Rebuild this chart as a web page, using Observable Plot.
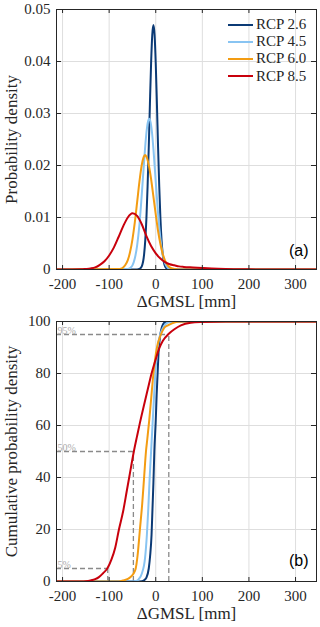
<!DOCTYPE html>
<html><head><meta charset="utf-8">
<script src="https://cdn.jsdelivr.net/npm/d3@7"></script>
<script src="https://cdn.jsdelivr.net/npm/@observablehq/plot@0.6"></script>
<style>
body{margin:0;background:#fff;}
#wrap{position:relative;width:320px;height:627px;}
#wrap svg{display:block;}
#legend{position:absolute;left:228px;top:16px;font-family:'Liberation Serif',serif;font-size:15px;color:#262626;}
.row{display:flex;align-items:center;height:17.2px;}
.row span{margin-left:3px;}
</style></head><body><div id="wrap"></div><script>
// ---- data ----
const scenarios = ["RCP 2.6", "RCP 4.5", "RCP 6.0", "RCP 8.5"];
const colors = ["#0b3a75", "#88c4f2", "#f39c12", "#c8000c"];

const xTicks = [-200, -100, 0, 100, 200, 300];
const pdfTicks = [0, 0.01, 0.02, 0.03, 0.04, 0.05];
const cdfTicks = [0, 20, 40, 60, 80, 100];

// probability density
const pdfX26 = [-215,-40,-35,-30,-25,-22.5,-20,-17.5,-15,-12.5,-10,-7.5,-5,-2.5,0,2.5,5,7.5,10,12.5,15,20,25,30,350];
const pdfY26 = [0,0,0.0001,0.0006,0.0029,0.0056,0.0099,0.0160,0.0235,0.0319,0.0396,0.0451,0.047,0.0451,0.0396,0.0319,0.0235,0.0160,0.0099,0.0056,0.0029,0.0006,0.0001,0,0];
const pdfX45 = [-215,-60,-55,-50,-45,-40,-35,-30,-25,-20,-17,-14,-11,-8,-5,0,5,10,15,20,25,30,40,350];
const pdfY45 = [0,0.0001,0.0003,0.0008,0.0021,0.0046,0.0086,0.0144,0.0208,0.0263,0.0283,0.029,0.0283,0.0263,0.0232,0.0169,0.0108,0.0060,0.0029,0.0012,0.0004,0.0001,0,0];
const pdfX60 = [-215,-80,-75,-70,-65,-60,-55,-50,-45,-40,-35,-30,-26,-23,-20,-15,-10,-5,0,5,10,15,20,25,30,40,50,350];
const pdfY60 = [0,0.0001,0.00015,0.0004,0.0009,0.0018,0.0034,0.0058,0.0090,0.0129,0.0169,0.0201,0.0216,0.022,0.0217,0.0201,0.0174,0.0140,0.0106,0.0074,0.0049,0.0030,0.0017,0.0009,0.0004,0.0001,0,0];
const pdfX85 = [-215,-160,-150,-140,-130,-120,-110,-100,-90,-80,-70,-60,-50,-40,-30,-20,-10,0,10,20,30,40,50,60,80,100,120,150,200,250,350];
const pdfY85 = [0,0.00003,0.0001,0.0002,0.0004,0.0009,0.0016,0.0027,0.0042,0.0062,0.0083,0.0100,0.0108,0.0103,0.0087,0.0064,0.0045,0.0031,0.0021,0.0014,0.0010,0.0008,0.0006,0.0005,0.0004,0.0003,0.0002,0.0001,0.00003,0,0];

// cumulative probability (%)
const cdfX26 = [-215,-40,-30,-25,-20,-15,-12,-9,-7,-5,-3,0,2,4,6,9,12,16,21,30,350];
const cdfY26 = [0,0,0.1,0.5,1.5,5,10,18,28,38,50,62,72,80,88,94,97,99,99.8,100,100];
const cdfX45 = [-215,-50,-40,-36,-30,-23,-19,-16,-13,-10,-7,-4,-1,3.5,8,14,20,28,40,350];
const cdfY45 = [0,0,0.3,1,3,9,18,28,40,50,60,70,80,89.5,94,97,98.8,99.7,100,100];
const cdfX60 = [-215,-80,-68,-60,-54,-48,-43,-39,-34,-29,-25,-21,-18,-14,-10,-5,2,11,18,26,35,47,60,350];
const cdfY60 = [0,0,0.5,1,1.7,3,5,10,20,30,40,50,55,62,70,80,89.5,95,97.5,98.5,99.3,99.9,100,100];
const cdfX85 = [-215,-160,-150,-140,-130,-122,-113,-104,-95,-87,-79,-70,-62,-57,-47,-40,-34,-25,-17,-9,0,7,15,28,40,54,75,100,150,350];
const cdfY85 = [0,0,0.1,0.4,0.9,1.7,3.2,5,8.5,13,20,27,35,40,50,56,61,68,74,80,85.5,89.5,92.5,95.3,97,98.5,99.5,99.8,100,100];

// RCP 8.5 percentiles
const pctLevels = [5, 50, 95];
const pctValues = [-103, -48, 28];
const pctLabels = ["5%", "50%", "95%"];

const xLabel = "\u0394GMSL [mm]";
const pdfLabel = "Probability density";
const cdfLabel = "Cumulative probability density";
const tags = ["(a)", "(b)"];

// ---- build ----
const xDomain = [-213, 345];
const frameColor = "#262626";
const serif = "'Liberation Serif', 'DejaVu Serif', serif";

function series(xsList, ysList) {
  return scenarios.map((s, i) => xsList[i].map((x, j) => ({scenario: s, x, y: ysList[i][j]})));
}
const pdfSeries = series([pdfX26, pdfX45, pdfX60, pdfX85], [pdfY26, pdfY45, pdfY60, pdfY85]);
const cdfSeries = series([cdfX26, cdfX45, cdfX60, cdfX85], [cdfY26, cdfY45, cdfY60, cdfY85]);

function panel({height, marginTop, marginBottom, yDomain, yTicks, yFmt, data, extra, ylabel, tag, tagDy}) {
  const innerW = 320 - 56 - 4;
  const innerH = height - marginTop - marginBottom;
  return Plot.plot({
    width: 320, height, marginLeft: 56, marginRight: 4, marginTop, marginBottom,
    style: {fontFamily: serif, fontSize: "15px", color: frameColor, background: "#fff", overflow: "visible"},
    x: {domain: xDomain, ticks: xTicks},
    y: {domain: yDomain, ticks: yTicks},
    color: {domain: scenarios, range: colors},
    marks: [
      Plot.gridX(xTicks, {stroke: "#dedede", strokeOpacity: 1, strokeWidth: 1}),
      Plot.gridY(yTicks, {stroke: "#dedede", strokeOpacity: 1, strokeWidth: 1}),
      ...extra,
      ...data.map(d => Plot.line(d, {x: "x", y: "y", stroke: "scenario", strokeWidth: 2, curve: "monotone-x", clip: true})),
      Plot.frame({stroke: frameColor, strokeWidth: 1}),
      Plot.tickX(xTicks, {x: d => d, insetTop: innerH - 4, stroke: frameColor}),
      Plot.tickX(xTicks, {x: d => d, insetBottom: innerH - 4, stroke: frameColor}),
      Plot.tickY(yTicks, {y: d => d, insetRight: innerW - 5, stroke: frameColor}),
      Plot.tickY(yTicks, {y: d => d, insetLeft: innerW - 5, stroke: frameColor}),
      Plot.axisX(xTicks, {tickSize: 0, tickPadding: 9, tickFormat: d => String(d), label: null, fontSize: 15, fontFamily: serif}),
      Plot.axisY(yTicks, {tickSize: 0, tickPadding: 6, tickFormat: yFmt, label: null, fontSize: 15, fontFamily: serif}),
      Plot.text([xLabel], {frameAnchor: "bottom", dy: 32, text: d => d, fontSize: 17, fontFamily: serif, textAnchor: "middle", lineAnchor: "middle", fill: frameColor}),
      Plot.text([ylabel], {frameAnchor: "left", dx: -45, rotate: -90, text: d => d, fontSize: 17, fontFamily: serif, textAnchor: "middle", lineAnchor: "middle", fill: frameColor}),
      Plot.text([tag], {frameAnchor: "bottom-right", dx: -8, dy: tagDy, text: d => d, fontSize: 16, fontFamily: "'Liberation Sans', Arial, sans-serif", textAnchor: "end", lineAnchor: "middle", fill: "#000"})
    ]
  });
}

const topPanel = panel({
  height: 312, marginTop: 9, marginBottom: 43,
  yDomain: [0, 0.05], yTicks: pdfTicks, yFmt: d => d === 0 ? "0" : d.toFixed(2),
  data: pdfSeries, extra: [], ylabel: pdfLabel, tag: tags[0], tagDy: -19
});

const dash = {stroke: "#8a8a8a", strokeWidth: 1.3, strokeDasharray: "5,3"};
const bottomPanel = panel({
  height: 315, marginTop: 9, marginBottom: 46,
  yDomain: [0, 100], yTicks: cdfTicks, yFmt: d => String(d),
  data: cdfSeries,
  extra: [
    Plot.ruleY(pctLevels, {y: d => d, x1: xDomain[0], x2: (d, i) => pctValues[i], ...dash}),
    Plot.ruleX(pctValues, {x: d => d, y1: 0, y2: (d, i) => pctLevels[i], ...dash}),
    Plot.text(pctLabels, {x: xDomain[0], y: (d, i) => pctLevels[i], text: d => d, fontFamily: serif, textAnchor: "start", lineAnchor: "bottom", dx: 1, dy: -1, fill: "#ababab", fontSize: 10})
  ],
  ylabel: cdfLabel, tag: tags[1], tagDy: -21
});

const wrap = document.getElementById("wrap");
wrap.appendChild(topPanel);
wrap.appendChild(bottomPanel);

const legend = document.createElement("div");
legend.id = "legend";
scenarios.forEach((s, i) => {
  const row = document.createElement("div");
  row.className = "row";
  row.innerHTML = `<svg width="25" height="4"><line x1="0" x2="25" y1="2" y2="2" stroke="${colors[i]}" stroke-width="2"/></svg><span>${s}</span>`;
  legend.appendChild(row);
});
wrap.appendChild(legend);
</script></body></html>
